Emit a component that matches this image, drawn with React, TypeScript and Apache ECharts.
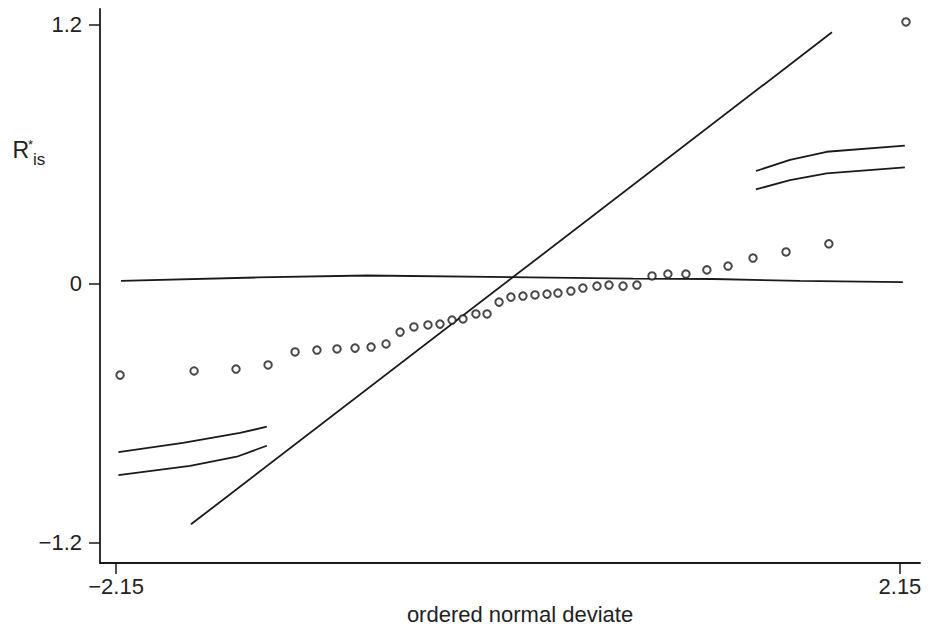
import React, { useEffect, useRef } from "react";
import * as echarts from "echarts";

// ---- data ----
const pointX = [
  -2.128, -1.722, -1.492, -1.316, -1.168, -1.048, -0.938, -0.839, -0.751, -0.669,
  -0.592, -0.516, -0.439, -0.373, -0.307, -0.247, -0.176, -0.115, -0.049, 0.016,
  0.082, 0.148, 0.214, 0.274, 0.345, 0.411, 0.488, 0.554, 0.631, 0.707,
  0.79, 0.877, 0.976, 1.091, 1.207, 1.344, 1.525, 1.76, 2.183,
];
const pointY = [
  -0.424, -0.405, -0.396, -0.377, -0.317, -0.308, -0.303, -0.299, -0.294, -0.28,
  -0.225, -0.201, -0.192, -0.188, -0.169, -0.164, -0.141, -0.141, -0.086, -0.063,
  -0.058, -0.053, -0.049, -0.044, -0.035, -0.021, -0.012, -0.007, -0.012, -0.007,
  0.035, 0.044, 0.044, 0.063, 0.081, 0.118, 0.146, 0.184, 1.211,
];

const diagX = [-1.739, 1.777];
const diagY = [-1.115, 1.163];

const zeroX = [-2.123, -1.377, -0.773, 0.011, 0.686, 1.124, 1.601, 2.166];
const zeroY = [0.012, 0.028, 0.037, 0.03, 0.023, 0.021, 0.012, 0.006];

const lowBandX = [-2.137, -1.783, -1.47, -1.323];
const lowBandUpperY = [-0.781, -0.738, -0.692, -0.663];
const lowBandLowerX = [-2.137, -1.744, -1.488, -1.323];
const lowBandLowerY = [-0.887, -0.844, -0.802, -0.751];

const highBandX = [1.36, 1.547, 1.748, 2.177];
const highBandUpperY = [0.521, 0.572, 0.61, 0.638];
const highBandLowerY = [0.436, 0.479, 0.51, 0.538];

const xTicks = [-2.15, 2.15];
const yTicks = [-1.2, 0, 1.2];

const xTitle = "ordered normal deviate";

const zip = (xs: number[], ys: number[]) => xs.map((x, i) => [x, ys[i]]);

const INK = "#1a1a1a";
const FONT = "'Liberation Sans', Arial, Helvetica, sans-serif";

const fmt = (v: number) => (v < 0 ? "\u2212" + String(Math.abs(v)) : String(v));

export default function App() {
  const ref = useRef<HTMLDivElement>(null);

  useEffect(() => {
    if (!ref.current) return;
    const chart = echarts.init(ref.current, undefined, { renderer: "svg" });

    const lineSeries = (name: string, data: number[][]) => ({
      name,
      type: "line",
      data,
      showSymbol: false,
      symbol: "none",
      smooth: false,
      lineStyle: { color: INK, width: 1.8 },
      silent: true,
      z: 2,
    });

    chart.setOption({
      animation: false,
      backgroundColor: "#ffffff",
      grid: { left: 100, top: 9, right: 12, bottom: 67 },
      xAxis: {
        type: "value",
        min: -2.238,
        max: 2.26,
        splitLine: { show: false },
        axisLine: { show: true, onZero: false, lineStyle: { color: INK, width: 1.8 } },
        axisTick: {
          show: true,
          customValues: xTicks,
          length: 11,
          inside: false,
          lineStyle: { color: INK, width: 1.5 },
        },
        axisLabel: {
          customValues: xTicks,
          formatter: fmt,
          margin: 12,
          color: "#222",
          fontSize: 22,
          fontFamily: FONT,
        },
      },
      yAxis: {
        type: "value",
        min: -1.294,
        max: 1.271,
        splitLine: { show: false },
        axisLine: { show: true, onZero: false, lineStyle: { color: INK, width: 1.8 } },
        axisTick: {
          show: true,
          customValues: yTicks,
          length: 11,
          inside: false,
          lineStyle: { color: INK, width: 1.5 },
        },
        axisLabel: {
          customValues: yTicks,
          formatter: fmt,
          margin: 18,
          color: "#222",
          fontSize: 22,
          fontFamily: FONT,
        },
      },
      graphic: [
        {
          type: "text",
          x: 12.5,
          y: 150,
          style: {
            text: "R",
            fontSize: 23,
            fontFamily: FONT,
            fill: "#222",
            align: "left",
            verticalAlign: "middle",
          },
        },
        {
          type: "text",
          x: 28,
          y: 144.5,
          style: {
            text: "*",
            fontSize: 13,
            fontFamily: FONT,
            fill: "#222",
            align: "left",
            verticalAlign: "middle",
          },
        },
        {
          type: "text",
          x: 33,
          y: 159,
          style: {
            text: "is",
            fontSize: 17,
            fontFamily: FONT,
            fill: "#222",
            align: "left",
            verticalAlign: "middle",
          },
        },
        {
          type: "text",
          x: 520,
          y: 614,
          style: {
            text: xTitle,
            fontSize: 22,
            fontFamily: FONT,
            fill: "#222",
            align: "center",
            verticalAlign: "middle",
          },
        },
      ],
      series: [
        lineSeries("diagonal", zip(diagX, diagY)),
        lineSeries("zero", zip(zeroX, zeroY)),
        lineSeries("lowBandUpper", zip(lowBandX, lowBandUpperY)),
        lineSeries("lowBandLower", zip(lowBandLowerX, lowBandLowerY)),
        lineSeries("highBandUpper", zip(highBandX, highBandUpperY)),
        lineSeries("highBandLower", zip(highBandX, highBandLowerY)),
        {
          name: "residuals",
          type: "scatter",
          data: zip(pointX, pointY),
          symbol: "circle",
          symbolSize: 7.5,
          itemStyle: { color: "#ffffff", borderColor: INK, borderWidth: 2 },
          silent: true,
          z: 3,
        },
      ],
    });

    return () => chart.dispose();
  }, []);

  return (
    <div
      ref={ref}
      style={{ position: "fixed", left: 0, top: 0, width: 932, height: 630, background: "#fff" }}
    />
  );
}
